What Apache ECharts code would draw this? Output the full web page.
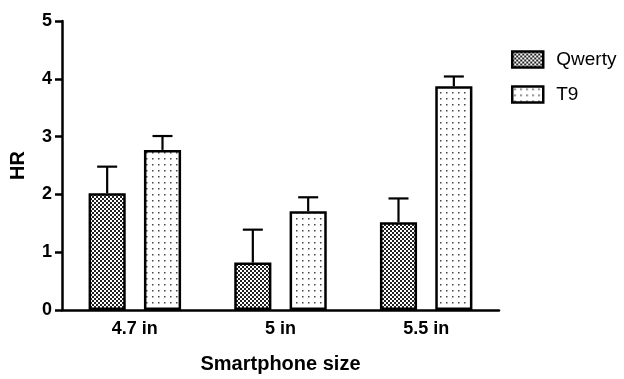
<!DOCTYPE html>
<html><head><meta charset="utf-8">
<script src="https://cdn.jsdelivr.net/npm/echarts@6/dist/echarts.min.js"></script>
<style>html,body{margin:0;padding:0;background:#fff;overflow:hidden}#c{width:624px;height:379px}</style>
</head><body><div id="c"></div>
<script>
const categories = ['4.7 in', '5 in', '5.5 in'];
const qwerty = [2.02, 0.82, 1.52];
const qwertyErr = [2.48, 1.39, 1.93];
const t9 = [2.77, 1.71, 3.87];
const t9Err = [3.01, 1.95, 4.04];
const yTicks = [0, 1, 2, 3, 4, 5];

function checker() {
  const c = document.createElement('canvas'); c.width = 4; c.height = 4;
  const g = c.getContext('2d'); g.fillStyle = '#fff'; g.fillRect(0,0,4,4);
  g.fillStyle = '#222'; g.fillRect(0,0,2,2); g.fillRect(2,2,2,2);
  return c;
}
function dots() {
  const c = document.createElement('canvas'); c.width = 6; c.height = 6;
  const g = c.getContext('2d'); g.fillStyle = '#fff'; g.fillRect(0,0,6,6);
  g.fillStyle = '#444'; g.fillRect(2,2,1.5,1.5);
  return c;
}
const chart = echarts.init(document.getElementById('c'), null, {renderer: 'canvas', width: 624, height: 379});
const F = 'Liberation Sans, Arial, sans-serif';
function errSeries(name, vals, errs, idx) {
  return {
    type: 'custom', name: name + ' err', silent: true, z: 1,
    data: vals.map((v, i) => [i, v, errs[i]]),
    renderItem: function (params, api) {
      const i = api.value(0);
      const bw = api.size([1, 0])[0];
      const barW = bw * 0.255, gap = barW * 0.49;
      const cx0 = api.coord([i, 0])[0];
      const off = (idx === 0 ? -1 : 1) * (barW + gap) / 2;
      const x = cx0 + off;
      const p1 = api.coord([i, api.value(1)]);
      const p2 = api.coord([i, api.value(2)]);
      const st = {stroke: '#000', lineWidth: 2.2};
      return {type: 'group', children: [
        {type: 'line', shape: {x1: x, y1: p1[1], x2: x, y2: p2[1]}, style: st},
        {type: 'line', shape: {x1: x - 10, y1: p2[1], x2: x + 10, y2: p2[1]}, style: st}
      ]};
    }
  };
}
chart.setOption({
  animation: false,
  grid: {left: 62, width: 437, top: 21, height: 292},
  legend: {
    data: ['Qwerty', 'T9'], orient: 'vertical', left: 506, top: 45,
    icon: 'rect', itemWidth: 31, itemHeight: 16, itemGap: 16,
    itemStyle: {borderColor: '#000', borderWidth: 2.5},
    textStyle: {fontFamily: F, fontSize: 19, color: '#000', padding: [0,0,0,8]}
  },
  xAxis: {
    type: 'category', data: categories,
    name: 'Smartphone size', nameLocation: 'middle', nameGap: 44,
    nameTextStyle: {fontFamily: F, fontSize: 20, fontWeight: 'bold', color: '#000'},
    axisLine: {lineStyle: {color: '#000', width: 2.5}},
    axisTick: {alignWithLabel: true, length: 8, lineStyle: {color: '#000', width: 2.5}},
    axisLabel: {fontFamily: F, fontSize: 18, fontWeight: 'bold', color: '#000', margin: 10}
  },
  yAxis: {
    type: 'value', min: yTicks[0], max: yTicks[yTicks.length - 1], interval: 1,
    name: 'HR', nameLocation: 'middle', nameGap: 34,
    nameTextStyle: {fontFamily: F, fontSize: 20, fontWeight: 'bold', color: '#000'},
    axisLine: {show: true, lineStyle: {color: '#000', width: 2.5}},
    axisTick: {show: true, length: 7, lineStyle: {color: '#000', width: 2.5}},
    axisLabel: {fontFamily: F, fontSize: 18, fontWeight: 'bold', color: '#000', margin: 10},
    splitLine: {show: false}
  },
  series: [
    {name: 'Qwerty', type: 'bar', data: qwerty, barWidth: '25.5%', barGap: '49%', z: 2,
     itemStyle: {color: {image: checker(), repeat: 'repeat'}, borderColor: '#000', borderWidth: 2.5}},
    {name: 'T9', type: 'bar', data: t9, barWidth: '25.5%', barGap: '49%', z: 2,
     itemStyle: {color: {image: dots(), repeat: 'repeat'}, borderColor: '#000', borderWidth: 2.5}},
    errSeries('Qwerty', qwerty, qwertyErr, 0),
    errSeries('T9', t9, t9Err, 1)
  ]
});
</script></body></html>
